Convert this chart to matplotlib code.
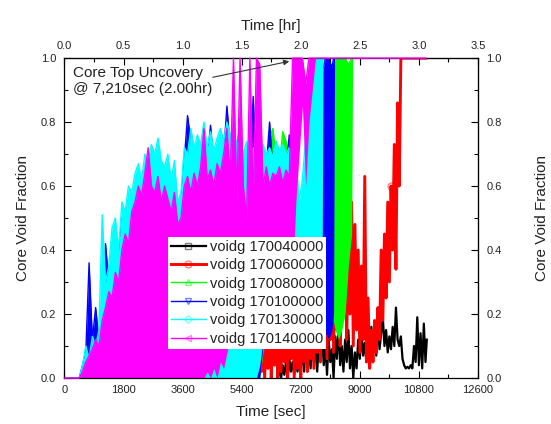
import matplotlib

matplotlib.use("Agg")
import matplotlib.pyplot as plt
from matplotlib.ticker import AutoMinorLocator, FormatStrFormatter

plt.rcParams["font.family"] = ["Liberation Sans", "DejaVu Sans"]

TEXT = "#222222"

# ---- data --------------------------------------------------------------
sec_ticks = [0, 1800, 3600, 5400, 7200, 9000, 10800, 12600]
hr_ticks = [0.0, 0.5, 1.0, 1.5, 2.0, 2.5, 3.0, 3.5]
void_ticks = [0.0, 0.2, 0.4, 0.6, 0.8, 1.0]

# shared time knots for the dense (band-like) channels, seconds
t_band = [0, 450, 550, 650, 750, 850, 950, 1050, 1150, 1250,
          1350, 1450, 1550, 1650, 1750, 1850, 1950, 2050, 2150, 2250,
          2350, 2450, 2550, 2650, 2750, 2850, 2950, 3050, 3150, 3250,
          3350, 3450, 3550, 3650, 3750, 3850, 3950, 4050, 4150, 4250,
          4350, 4450, 4550, 4650, 4750, 4850, 4950, 5050, 5150, 5250,
          5350, 5450, 5550, 5650, 5750, 5850, 5950, 6050, 6150, 6250,
          6350, 6450, 6550, 6650, 6750, 6850, 6950, 7050, 7150, 7250,
          7350, 7450, 7550, 7650]

# voidg 170140000 (magenta)
t_mag = t_band + [11020]
hi_mag = [0.0, 0.0, 0.02, 0.05, 0.07, 0.09, 0.12, 0.10, 0.18, 0.22,
          0.27, 0.25, 0.33, 0.30, 0.40, 0.45, 0.42, 0.52, 0.55, 0.60,
          0.57, 0.64, 0.72, 0.60, 0.58, 0.63, 0.55, 0.60, 0.56, 0.52,
          0.58, 0.48, 0.50, 0.60, 0.63, 0.58, 0.64, 0.60, 0.66, 0.78,
          0.62, 0.65, 0.60, 0.67, 0.64, 0.70, 0.78, 0.62, 1.0, 0.55,
          1.0, 0.60, 0.50, 1.0, 0.55, 1.0, 0.98, 0.60, 0.66, 0.60,
          0.64, 0.63, 0.66, 0.61, 0.65, 0.63, 1.0, 1.0, 1.0, 1.0,
          0.92, 1.0, 1.0, 1.0, 1.0]
lo_mag = [0.0] * 38 + [
          0.0, 0.0, 0.02, 0.0, 0.03, 0.0, 0.05, 0.03, 0.08, 0.12,
          0.20, 0.22, 0.25, 0.24, 0.22, 0.25, 0.24, 0.22, 0.25, 0.22,
          0.18, 0.20, 0.16, 0.18, 0.20, 0.15, 0.20, 0.18, 0.30, 0.55,
          0.70, 0.85, 0.60, 0.80, 0.90, 1.0, 1.0]

# voidg 170130000 (cyan)
t_cyan = t_band + [7750, 7850, 7880, 11020]
hi_cyan = [0.0, 0.0, 0.04, 0.10, 0.06, 0.13, 0.10, 0.15, 0.51, 0.30,
           0.35, 0.47, 0.50, 0.40, 0.55, 0.52, 0.60, 0.58, 0.64, 0.67,
           0.62, 0.70, 0.68, 0.73, 0.70, 0.75, 0.68, 0.66, 0.70, 0.62,
           0.68, 0.55, 0.58, 0.72, 0.70, 0.78, 0.72, 0.76, 0.73, 0.80,
           0.72, 0.77, 0.71, 0.75, 0.78, 0.74, 0.80, 0.76, 0.78, 0.73,
           0.75, 0.70, 0.74, 0.69, 0.72, 0.68, 0.70, 0.73, 0.70, 0.72,
           0.69, 0.74, 0.71, 0.73, 0.70, 0.72, 0.68, 0.70, 0.55, 0.62,
           0.75, 0.85, 0.92, 1.0, 1.0, 1.0, 1.0, 1.0]
lo_cyan = [0.0] * 56 + [
           0.04, 0.12, 0.15, 0.14, 0.16, 0.15, 0.18, 0.16, 0.20, 0.18,
           0.20, 0.22, 0.30, 0.28, 0.30, 0.25, 0.30, 0.28, 0.30, 0.35,
           1.0, 1.0]

# voidg 170100000 (blue)
t_blue = t_band + [7750, 7850, 7950, 8050, 8150, 8200, 8230, 11020]
hi_blue = [0.0, 0.0, 0.04, 0.08, 0.36, 0.12, 0.22, 0.12, 0.20, 0.42,
           0.30, 0.40, 0.45, 0.38, 0.50, 0.48, 0.56, 0.54, 0.60, 0.63,
           0.58, 0.66, 0.64, 0.70, 0.66, 0.71, 0.64, 0.62, 0.66, 0.58,
           0.64, 0.52, 0.55, 0.68, 0.82, 0.74, 0.68, 0.72, 0.70, 0.76,
           0.68, 0.79, 0.67, 0.71, 0.74, 0.70, 0.85, 0.72, 0.74, 0.70,
           0.81, 0.66, 0.70, 0.65, 0.88, 0.64, 0.66, 0.69, 0.66, 0.80,
           0.65, 0.70, 0.67, 0.69, 0.66, 0.76, 0.64, 0.66, 0.50, 0.55,
           0.60, 0.55, 0.60, 0.80, 0.85, 0.95, 1.0, 1.0, 0.97, 1.0,
           1.0, 1.0]
lo_blue = [0.0] * 56 + [
           0.0, 0.10, 0.14, 0.15, 0.15, 0.16, 0.17, 0.16, 0.18, 0.18,
           0.20, 0.20, 0.20, 0.22, 0.25, 0.25, 0.30, 0.20, 0.15, 0.12,
           0.14, 0.12, 0.15, 0.20, 1.0, 1.0]

# voidg 170080000 (green)
t_green = t_band + [7750, 7850, 7950, 8050, 8150, 8250, 8350, 8450,
                    8550, 8650, 8750, 8780, 11020]
hi_green = [0.0, 0.0, 0.03, 0.06, 0.10, 0.15, 0.14, 0.12, 0.18, 0.25,
            0.30, 0.38, 0.42, 0.36, 0.48, 0.46, 0.52, 0.50, 0.55, 0.58,
            0.55, 0.60, 0.60, 0.64, 0.62, 0.66, 0.60, 0.58, 0.62, 0.55,
            0.60, 0.48, 0.52, 0.64, 0.62, 0.70, 0.65, 0.68, 0.66, 0.70,
            0.65, 0.70, 0.64, 0.68, 0.70, 0.67, 0.72, 0.69, 0.70, 0.66,
            0.68, 0.64, 0.67, 0.63, 0.66, 0.62, 0.64, 0.67, 0.64, 0.75,
            0.78, 0.68, 0.66, 0.77, 0.74, 0.68, 0.64, 0.66, 0.52, 0.55,
            0.58, 0.54, 0.58, 0.60, 0.65, 0.70, 0.75, 0.85, 0.95, 1.0,
            1.0, 1.0, 1.0, 0.98, 1.0, 1.0, 1.0]
lo_green = [0.0] * 56 + [
            0.0, 0.08, 0.12, 0.14, 0.15, 0.15, 0.16, 0.15, 0.17, 0.16,
            0.18, 0.18, 0.20, 0.20, 0.22, 0.20, 0.25, 0.25, 0.28, 0.30,
            0.30, 0.25, 0.20, 0.15, 0.12, 0.15, 0.20, 0.35, 0.45, 1.0,
            1.0]

# voidg 170060000 (red), raw noisy trace
t_red = [5900, 5950, 6000, 6050, 6100, 6150, 6200, 6250, 6300, 6350,
         6400, 6450, 6500, 6550, 6600, 6650, 6700, 6750, 6800, 6850,
         6900, 6950, 7000, 7050, 7100, 7150, 7200, 7250, 7300, 7350,
         7400, 7450, 7500, 7550, 7600, 7650, 7700, 7750, 7800, 7850,
         7900, 7950, 8000, 8050, 8100, 8150, 8200, 8250, 8300, 8350,
         8400, 8450, 8500, 8550, 8600, 8650, 8700, 8750, 8800, 8850,
         8900, 8950, 9000, 9050, 9100, 9150, 9200, 9250, 9300, 9350,
         9400, 9450, 9500, 9550, 9600, 9650, 9700, 9750, 9800, 9850,
         9900, 9950, 10000, 10050, 10100, 10150, 10200, 10250, 10300, 11020]
v_red = [0.0, 0.08, 0.02, 0.12, 0.0, 0.15, 0.03, 0.20, 0.0, 0.12,
         0.04, 0.25, 0.0, 0.18, 0.02, 0.22, 0.05, 0.30, 0.0, 0.20,
         0.06, 0.25, 0.0, 0.28, 0.03, 0.20, 0.0, 0.30, 0.05, 0.22,
         0.02, 0.35, 0.06, 0.25, 0.03, 0.30, 0.08, 0.38, 0.05, 0.30,
         0.10, 0.42, 0.06, 0.35, 0.12, 0.45, 0.08, 0.40, 0.15, 0.50,
         0.10, 0.38, 0.20, 0.55, 0.12, 0.45, 0.20, 0.55, 0.10, 0.48,
         0.15, 0.40, 0.08, 0.35, 0.12, 0.63, 0.05, 0.25, 0.03, 0.15,
         0.05, 0.18, 0.08, 0.22, 0.12, 0.40, 0.18, 0.45, 0.25, 0.55,
         0.30, 0.60, 0.40, 0.73, 0.34, 0.86, 0.60, 1.0, 1.0, 1.0]

# voidg 170040000 (black), raw noisy trace
t_blk = [6500, 6550, 6600, 6650, 6700, 6750, 6800, 6850, 6900, 6950,
         7000, 7050, 7100, 7150, 7200, 7250, 7300, 7350, 7400, 7450,
         7500, 7550, 7600, 7650, 7700, 7750, 7800, 7850, 7900, 7950,
         8000, 8050, 8100, 8150, 8200, 8250, 8300, 8350, 8400, 8450,
         8500, 8550, 8600, 8650, 8700, 8750, 8800, 8850, 8900, 8950,
         9000, 9050, 9100, 9150, 9200, 9250, 9300, 9350, 9400, 9450,
         9500, 9550, 9600, 9650, 9700, 9750, 9800, 9850, 9900, 9950,
         10000, 10050, 10100, 10150, 10200, 10250, 10300, 10350, 10400, 10450,
         10500, 10550, 10600, 10650, 10700, 10750, 10800, 10850, 10900, 10950,
         11000, 11040]
v_blk = [0.0, 0.03, 0.0, 0.04, 0.01, 0.05, 0.0, 0.06, 0.02, 0.05,
         0.01, 0.07, 0.02, 0.06, 0.03, 0.09, 0.02, 0.10, 0.04, 0.08,
         0.03, 0.12, 0.05, 0.09, 0.02, 0.11, 0.06, 0.14, 0.04, 0.10,
         0.01, 0.12, 0.05, 0.09, 0.0, 0.13, 0.06, 0.16, 0.04, 0.10,
         0.02, 0.12, 0.05, 0.15, 0.03, 0.10, 0.0, 0.08, 0.03, 0.12,
         0.06, 0.14, 0.07, 0.11, 0.05, 0.13, 0.06, 0.16, 0.08, 0.12,
         0.07, 0.17, 0.09, 0.14, 0.19, 0.10, 0.15, 0.08, 0.13, 0.09,
         0.16, 0.10, 0.22, 0.12, 0.10, 0.13, 0.06, 0.04, 0.03, 0.035,
         0.03, 0.04, 0.03, 0.10, 0.05, 0.19, 0.04, 0.14, 0.03, 0.17,
         0.05, 0.12]


def main():
    fig = plt.figure(figsize=(5.51, 4.24), dpi=100)
    ax = fig.add_axes((0.117, 0.1085, 0.7505, 0.7545))

    def hollow(rgb, alpha=0.5):
        return (*matplotlib.colors.to_rgb(rgb), alpha)

    # black and red are raw traces
    ax.plot(t_blk, v_blk, color="black", lw=1.6, marker="s", ms=5,
            mfc="none", mec=hollow("black"), markevery=[],
            label="voidg 170040000", zorder=2)
    ax.plot(t_red, v_red, color="#ff0000", lw=2.1, marker="o", ms=5,
            mfc="none", mec=hollow("#ff0000"), markevery=[t_red.index(9950)],
            label="voidg 170060000", zorder=2.1)

    # the others oscillate so fast they read as filled bands
    bands = [
        (t_green, lo_green, hi_green, "#00ff00", "^", "voidg 170080000"),
        (t_blue, lo_blue, hi_blue, "#0000ff", "v", "voidg 170100000"),
        (t_cyan, lo_cyan, hi_cyan, "#00ffff", "D", "voidg 170130000"),
        (t_mag, lo_mag, hi_mag, "#ff00ff", "<", "voidg 170140000"),
    ]
    for i, (t, lo, hi, color, mk, label) in enumerate(bands):
        z = 2.2 + 0.1 * i
        ax.fill_between(t, lo, hi, color=color, lw=0, zorder=z)
        ax.plot(t, hi, color=color, lw=1.0, marker=mk,
                ms=4.5 if mk == "D" else 5, mfc="none", mec=hollow(color),
                markevery=[], label=label, zorder=z + 0.05,
                clip_on=(color != "#ff00ff"))

    ax.set_xlim(0, 12600)
    ax.set_ylim(0, 1.0)
    ax.set_xticks(sec_ticks)
    ax.set_xticklabels([str(s) for s in sec_ticks])
    ax.set_yticks(void_ticks)
    ax.yaxis.set_major_formatter(FormatStrFormatter("%.1f"))
    ax.xaxis.set_minor_locator(AutoMinorLocator(2))
    ax.yaxis.set_minor_locator(AutoMinorLocator(2))
    ax.tick_params(which="both", direction="in", colors="black",
                   labelcolor=TEXT, labelsize=8, width=0.8)
    ax.tick_params(which="major", length=5)
    ax.tick_params(which="minor", length=3)
    ax.tick_params(axis="y", pad=6)
    ax.tick_params(axis="x", pad=5)
    ax.set_xlabel("Time [sec]", fontsize=11, color=TEXT, labelpad=7)
    ax.set_ylabel("Core Void Fraction", fontsize=11, color=TEXT, labelpad=8)

    top = ax.secondary_xaxis("top", functions=(lambda s: s / 3600.0,
                                               lambda h: h * 3600.0))
    top.set_xticks(hr_ticks)
    top.xaxis.set_major_formatter(FormatStrFormatter("%.1f"))
    top.xaxis.set_minor_locator(AutoMinorLocator(2))
    top.tick_params(which="both", direction="in", labelcolor=TEXT,
                    labelsize=8, width=0.8, pad=5)
    top.tick_params(which="major", length=5)
    top.tick_params(which="minor", length=3)
    top.set_xlabel("Time [hr]", fontsize=11, color=TEXT, labelpad=8)

    right = ax.secondary_yaxis("right")
    right.set_yticks(void_ticks)
    right.yaxis.set_major_formatter(FormatStrFormatter("%.1f"))
    right.yaxis.set_minor_locator(AutoMinorLocator(2))
    right.tick_params(which="both", direction="in", labelcolor=TEXT,
                      labelsize=8, width=0.8, pad=6)
    right.tick_params(which="major", length=5)
    right.tick_params(which="minor", length=3)
    right.set_ylabel("Core Void Fraction", fontsize=11, color=TEXT,
                     rotation=90, labelpad=24)

    for sp in ax.spines.values():
        sp.set_linewidth(0.9)
        sp.set_zorder(2.52)

    ax.text(250, 0.975, "Core Top Uncovery\n@ 7,210sec (2.00hr)",
            fontsize=11, color=TEXT, va="top", ha="left",
            linespacing=1.15, zorder=5)
    ax.annotate("", xy=(6850, 0.99), xytext=(4520, 0.94),
                arrowprops=dict(arrowstyle="-|>", color="#333333", lw=0.8,
                                mutation_scale=8, shrinkA=0, shrinkB=0),
                zorder=5)

    leg = ax.legend(loc="lower left", bbox_to_anchor=(0.25, 0.092),
                    fontsize=10.5, frameon=True, fancybox=False,
                    edgecolor="none", facecolor="white", framealpha=1.0,
                    handlelength=2.4, handletextpad=0.3, labelspacing=0.3,
                    borderpad=0.2, borderaxespad=0)
    leg.set_zorder(10)
    for txt in leg.get_texts():
        txt.set_color(TEXT)

    fig.savefig("out.png", dpi=100)


if __name__ == "__main__":
    main()
